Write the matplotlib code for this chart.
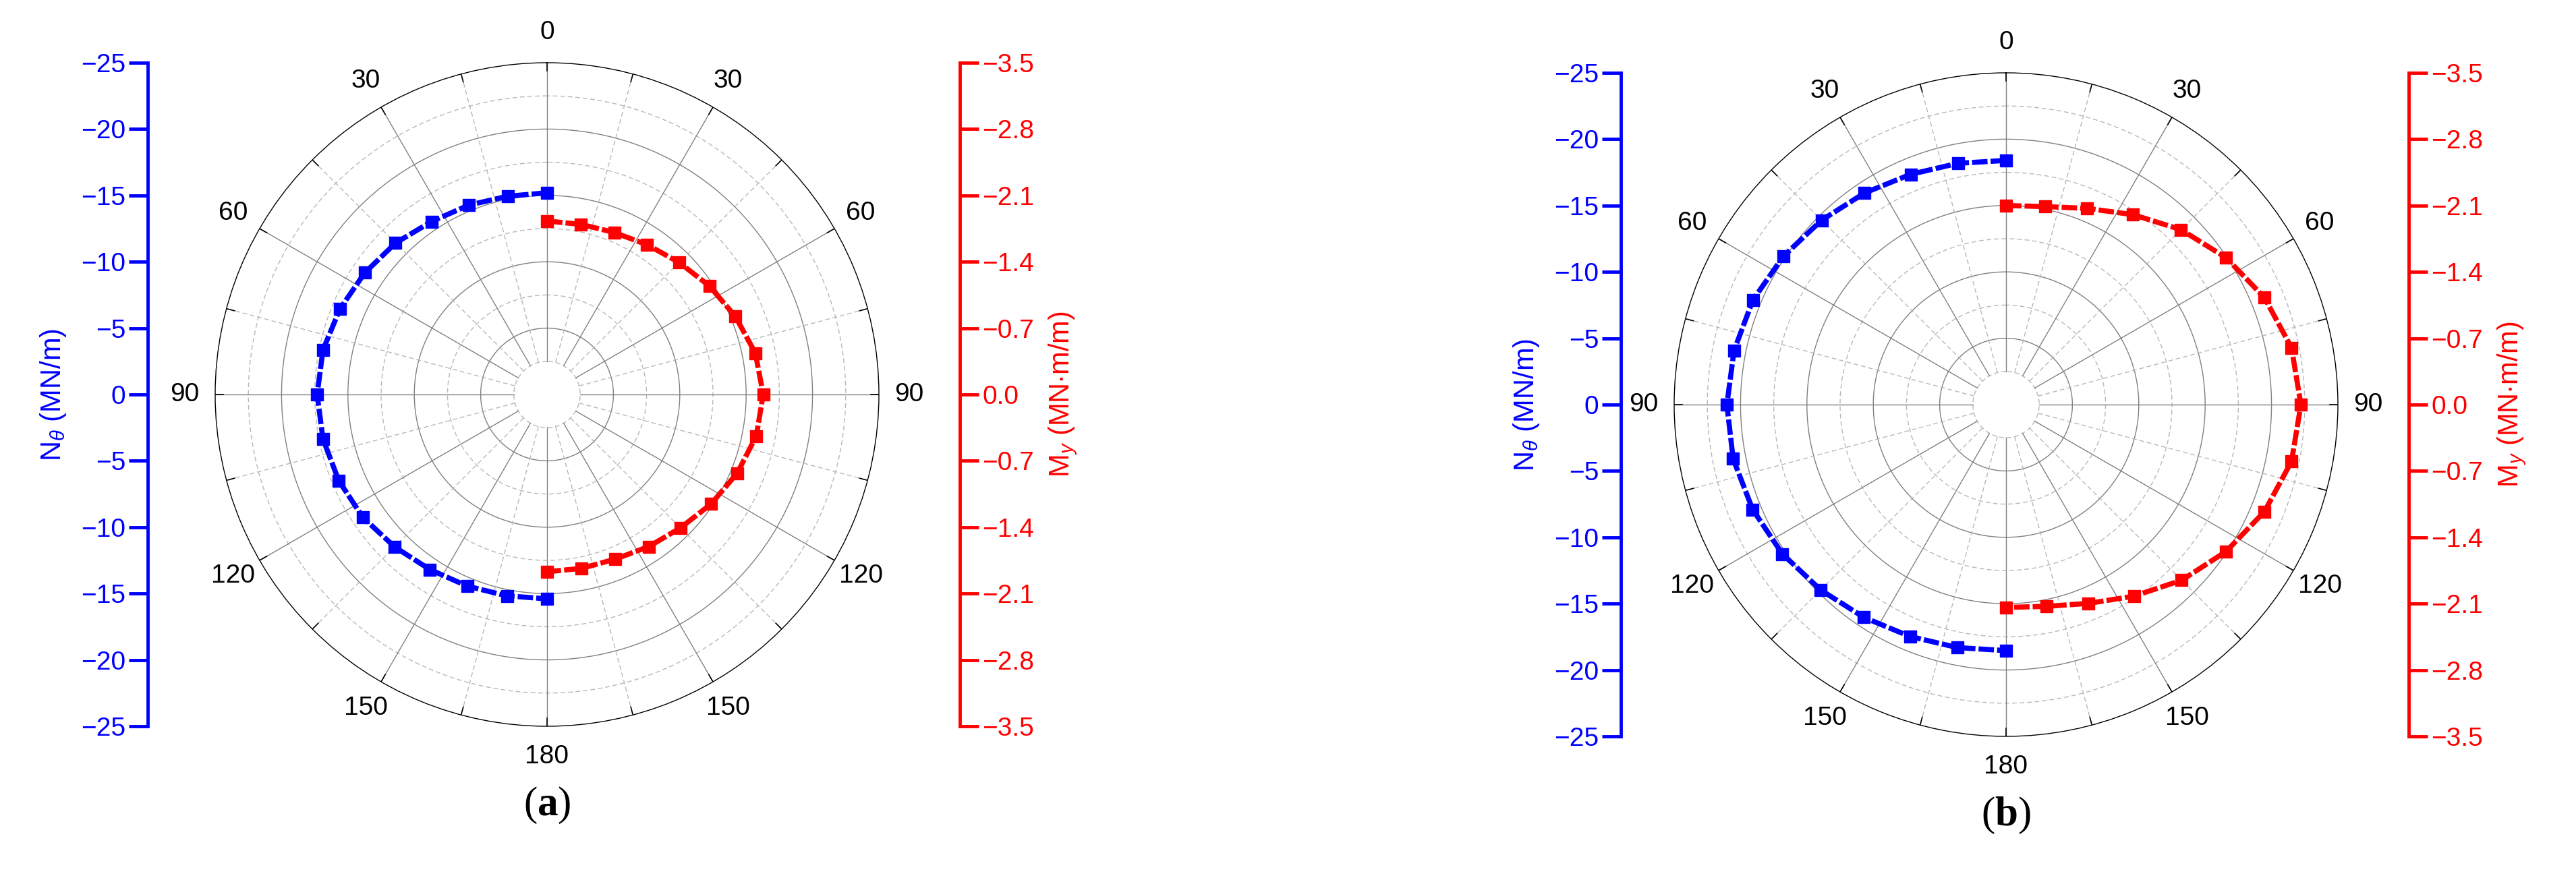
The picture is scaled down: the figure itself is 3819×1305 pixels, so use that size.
import numpy as np
import matplotlib
matplotlib.use('Agg')
import matplotlib.pyplot as plt

plt.rcParams['font.family'] = ['Liberation Sans', 'DejaVu Sans']
plt.rcParams['mathtext.fontset'] = 'custom'
plt.rcParams['mathtext.rm'] = 'Liberation Sans'
plt.rcParams['mathtext.it'] = 'Liberation Sans:italic'
plt.rcParams['mathtext.bf'] = 'Liberation Serif:bold'

# angle along the ring, degrees
angles = np.arange(0, 180.1, 11.25)

# hoop force N_theta (MN/m), magnitude
n_a = [15.2, 15.23, 15.44, 15.67, 16.14, 16.51, 16.88, 17.21, 17.32,
       17.21, 16.98, 16.68, 16.24, 15.87, 15.64, 15.47, 15.40]
n_b = [18.4, 18.54, 18.78, 19.18, 19.65, 20.15, 20.63, 20.89, 21.03,
       20.96, 20.66, 20.26, 19.75, 19.28, 18.91, 18.67, 18.54]
# bending moment M_y (MN.m/m), magnitude
m_a = [1.83, 1.83, 1.85, 1.90, 1.97, 2.06, 2.15, 2.24, 2.28,
       2.25, 2.17, 2.08, 1.99, 1.93, 1.88, 1.87, 1.87]
m_b = [2.10, 2.13, 2.24, 2.41, 2.61, 2.79, 2.95, 3.07, 3.11,
       3.07, 2.95, 2.79, 2.62, 2.43, 2.27, 2.17, 2.14]

n_max = 25
m_max = 3.5
n_ticks = np.arange(-25, 25.1, 5)
m_ticks = np.arange(-3.5, 3.51, 0.7)
angle_labels = ['0', '30', '60', '90', '120', '150', '180', '150', '120', '90', '60', '30']

W, H = 3819, 1305
fig = plt.figure(figsize=(W / 100, H / 100), dpi=100)

R = 492


def minus(s):
    return s.replace('-', '\u2212')


def polar_panel(cx, cy, nvals, mvals, blue_x, red_x, tag):
    rect = [(cx - R) / W, (H - cy - R) / H, 2 * R / W, 2 * R / H]
    ax = fig.add_axes(rect, projection='polar')
    ax.set_theta_zero_location('N')
    ax.set_theta_direction(1)
    ax.set_ylim(0, n_max)
    ax.grid(False)
    ax.set_yticks([])
    ax.set_thetagrids(np.arange(0, 360, 30), angle_labels)
    ax.tick_params(axis='x', labelsize=28, pad=22)
    ax.spines['polar'].set_linewidth(1.0)
    ax.spines['polar'].set_color('black')

    full = np.linspace(0, 2 * np.pi, 721)
    step = n_max / 10
    for i in range(1, 10):
        if i % 2 == 0:
            ax.plot(full, np.full_like(full, i * step), color='#808080', lw=1.0, zorder=1)
        else:
            ax.plot(full, np.full_like(full, i * step), color='#b8b8b8', lw=1.0,
                    ls=(0, (5, 3)), zorder=1)
    for d in range(0, 360, 15):
        t = np.radians(d)
        if d % 30 == 0:
            ax.plot([t, t], [step, n_max], color='#808080', lw=1.0, zorder=1)
        else:
            ax.plot([t, t], [step, n_max], color='#b8b8b8', lw=1.0, ls=(0, (5, 3)), zorder=1)
        ax.plot([t, t], [n_max * 0.975, n_max], color='black', lw=1.2, zorder=2)

    th = np.radians(angles)
    ax.plot(th, nvals, color='#0000ff', lw=5.5, ls=(0, (3, 0.6)), marker='s',
            markersize=13, zorder=5, clip_on=False)

    ax2 = fig.add_axes(rect, projection='polar')
    ax2.set_theta_zero_location('N')
    ax2.set_theta_direction(-1)
    ax2.set_ylim(0, m_max)
    ax2.patch.set_alpha(0)
    ax2.axis('off')
    ax2.plot(th, mvals, color='#ff0000', lw=5.5, ls=(0, (3, 0.6)), marker='s',
             markersize=13, zorder=5, clip_on=False)

    # side scales
    bax = fig.add_axes([blue_x / W, rect[1], 0.0001, rect[3]])
    bax.set_ylim(n_max, -n_max)
    bax.set_yticks(n_ticks)
    bax.set_yticklabels([minus('%g' % -abs(v)) if v != 0 else '0' for v in n_ticks])
    bax.set_xticks([])
    for s in ['top', 'right', 'bottom']:
        bax.spines[s].set_visible(False)
    bax.spines['left'].set_color('#0000ff')
    bax.spines['left'].set_linewidth(3.5)
    bax.tick_params(axis='y', colors='#0000ff', labelsize=28, length=20, width=3.5)
    bax.set_ylabel(r'N$_{\theta}$ (MN/m)', color='#0000ff', fontsize=30, labelpad=14)

    rax = fig.add_axes([red_x / W, rect[1], 0.0001, rect[3]])
    rax.set_ylim(m_max, -m_max)
    rax.yaxis.tick_right()
    rax.yaxis.set_label_position('right')
    rax.set_yticks(m_ticks)
    rax.set_yticklabels([minus('%.1f' % -abs(v)) if abs(v) > 1e-9 else '0.0' for v in m_ticks])
    rax.set_xticks([])
    for s in ['top', 'left', 'bottom']:
        rax.spines[s].set_visible(False)
    rax.spines['right'].set_color('#ff0000')
    rax.spines['right'].set_linewidth(3.5)
    rax.tick_params(axis='y', colors='#ff0000', labelsize=28, length=20, width=3.5)
    rax.set_ylabel(r'M$_{y}$ (MN$\cdot$m/m)', color='#ff0000', fontsize=30, labelpad=14)

    fig.text(cx / W, 1 - (cy + 609) / H, r'($\mathbf{%s}$)' % tag, ha='center', va='center',
             fontsize=44, family='Liberation Serif')


polar_panel(811, 585, n_a, m_a, 219, 1423, 'a')
polar_panel(2974, 600, n_b, m_b, 2403, 3571, 'b')

fig.savefig('out.png', dpi=100, facecolor='white')
